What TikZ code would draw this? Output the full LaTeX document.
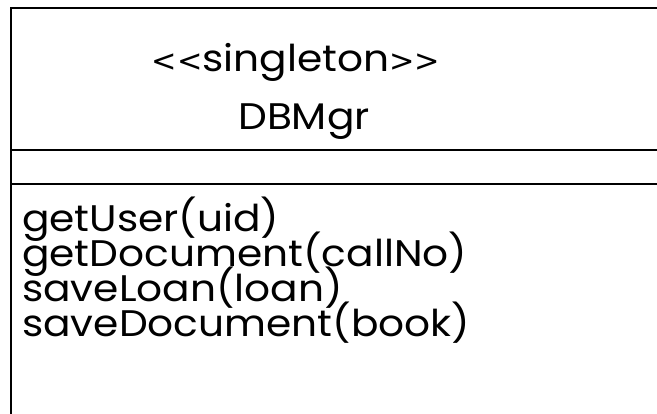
\documentclass[tikz,border=0pt]{standalone}
\usepackage{fontspec}
\setmainfont{Poppins}[Ligatures=TeXOff, FakeStretch=1.1]
\newfontfamily\anglefont{DejaVu Sans}[Ligatures=TeXOff, Scale=0.82]
\usetikzlibrary{positioning}

\newcommand{\stereotype}[1]{{\anglefont<<}#1{\anglefont>>}}

\begin{document}
\begin{tikzpicture}[
        x=1pt, y=-1pt,
        txt/.style={inner sep=0pt, anchor=base, font=\fontsize{37}{35}\selectfont},
        op/.style={txt, anchor=base west}
    ]
        \useasboundingbox (0,0) rectangle (657,414);
        \clip (0,0) rectangle (657,414);
        % class frame, running off the page on the right and at the bottom
        \draw[line width=1.6pt] (11,8) rectangle (680,440);
        \draw[line width=1.6pt] (11,150) -- (680,150);
        \draw[line width=1.6pt] (11,184) -- (680,184);

        \node[txt] (stereo) at (296,72) {\stereotype{singleton}};
        \node[txt] (cname) at (304,130) {DBMgr};

        \node[op] (m1) at (22,232) {getUser(uid)};
        \node[op, below=35pt of m1.base west, anchor=base west] (m2) {getDocument(callNo)};
        \node[op, below=35pt of m2.base west, anchor=base west] (m3) {saveLoan(loan)};
        \node[op, below=35pt of m3.base west, anchor=base west] (m4) {saveDocument(book)};
    \end{tikzpicture}
\end{document}
